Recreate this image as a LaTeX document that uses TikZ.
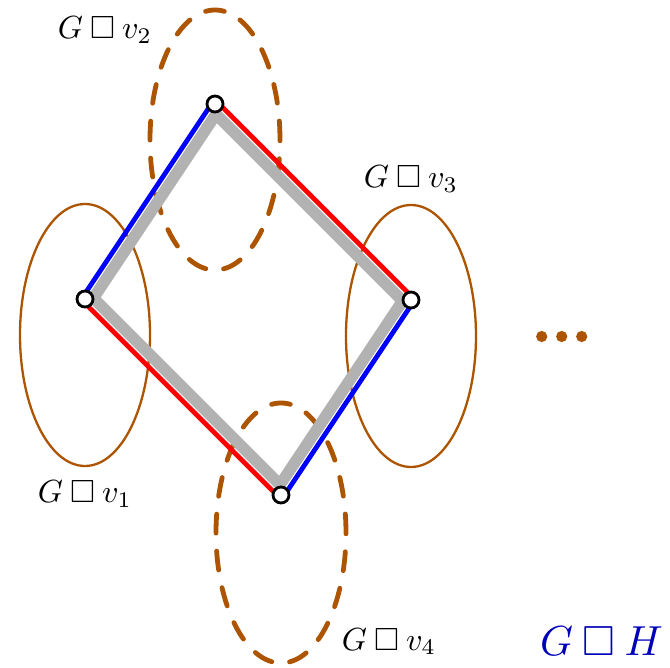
\documentclass[tikz,border=0pt]{standalone}
\usepackage{graphicx}
\usepackage{amssymb}
\usetikzlibrary{calc}
\definecolor{brn}{RGB}{172,84,0}
\definecolor{dblue}{RGB}{0,0,185}
\newcommand{\lbl}[1]{\scalebox{3.2}{$#1$}}
\newcommand{\biglbl}[1]{\scalebox{4.2}{$#1$}}
\begin{document}
\begin{tikzpicture}[x=1pt,y=-1pt,
  vert/.style={circle,draw=black,fill=white,line width=2.8pt,minimum size=16pt,inner sep=0pt},
  solidell/.style={draw=brn,line width=2.3pt},
  dashell/.style={draw=brn,line width=4.8pt,dash pattern=on 19pt off 18pt,line cap=round},
  grayedge/.style={draw=black!30,line width=11.5pt,line join=miter},
  redge/.style={draw=red,line width=4.8pt},
  bedge/.style={draw=blue,line width=4.8pt},
  lab/.style={inner sep=0pt,anchor=base},
  biglab/.style={inner sep=0pt,anchor=base,text=dblue}]
\useasboundingbox (0,0) rectangle (670,668);
\coordinate (p1) at (85,299);
\coordinate (p2) at (215,104);
\coordinate (p3) at (411,300);
\coordinate (p4) at (281,495);
% ellipses
\draw[solidell] ($(p1)+(0,36)$) ellipse [x radius=65pt, y radius=131pt];
\draw[solidell] ($(p3)+(0,36)$) ellipse [x radius=65pt, y radius=131pt];
\draw[dashell] ($(p2)+(0,36)$) ellipse [x radius=65pt, y radius=130pt];
\draw[dashell] ($(p4)+(0,38)$) ellipse [x radius=65pt, y radius=130pt];
% gray edges
\draw[grayedge] ($(p1)+(8.37,-0.83)$) -- ($(p2)+(1.01,10.2)$) -- ($(p3)+(-8.37,0.83)$) -- ($(p4)+(-1.01,-10.2)$) -- cycle;
% coloured edges
\draw[bedge] ($(p1)+(-2.5,-1.66)$) -- ($(p2)+(-2.5,-1.66)$);
\draw[redge] ($(p2)+(2.12,-2.12)$) -- ($(p3)+(2.12,-2.12)$);
\draw[bedge] ($(p3)+(2.5,1.66)$) -- ($(p4)+(2.5,1.66)$);
\draw[redge] ($(p4)+(-2.12,2.12)$) -- ($(p1)+(-2.12,2.12)$);
% vertices
\node[vert] (v1) at (p1) {};
\node[vert] (v2) at (p2) {};
\node[vert] (v3) at (p3) {};
\node[vert] (v4) at (p4) {};
% dots
\fill[brn] (541.7,336.5) circle (5.6pt);
\fill[brn] (561.7,336.5) circle (5.6pt);
\fill[brn] (581.7,336.5) circle (5.6pt);
% labels
\node[lab] (l2) at (105,39) {\lbl{G\mathbin{\square}v_2}};
\node[lab] (l3) at (411,188) {\lbl{G\mathbin{\square}v_3}};
\node[lab] (l1) at (85,503) {\lbl{G\mathbin{\square}v_1}};
\node[lab] (l4) at (389,650) {\lbl{G\mathbin{\square}v_4}};
\node[biglab] (gh) at (601.5,655) {\biglbl{G\mathbin{\square}H}};
\end{tikzpicture}
\end{document}
